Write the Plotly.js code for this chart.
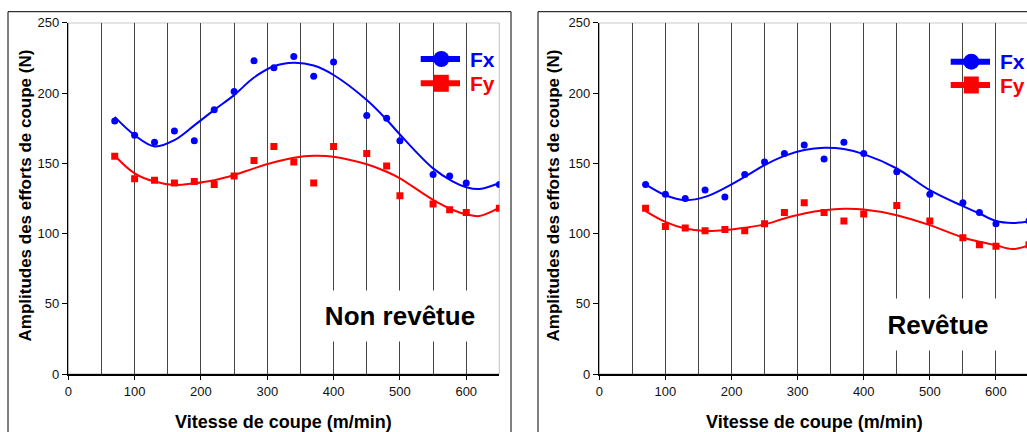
<!DOCTYPE html>
<html>
<head>
<meta charset="utf-8">
<script src="https://cdn.plot.ly/plotly-3.0.1.min.js"></script>
<style>
html,body{margin:0;padding:0;overflow:hidden;background:#fff;}
#chart{width:1032px;height:432px;}
</style>
</head>
<body>
<div id="chart"></div>
<script>
// ---------- DATA ----------
const panelNames = ["Non revêtue", "Revêtue"];
const seriesNames = ["Fx", "Fy"];

// Non revêtue (left)
const leftSpeed = [70,100,130,160,190,220,250,280,310,340,370,400,450,480,500,550,575,600,650];
const leftFx    = [180,170,165,173,166,188,201,223,218,226,212,222,184,182,166,142,141,136,135];
const leftFy    = [155,139,138,136,137,135,141,152,162,151,136,162,157,148,127,121,117,115,118];
// trend curves
const leftCurveSpeed = [70,100,130,160,190,220,250,280,310,340,370,400,450,480,500,550,580,600,620,650];
const leftFxCurve    = [183,170,162,166.5,177,188,198.5,211,219,221.5,219.5,212.8,195,181,170.5,146.4,137,133,131.7,136];
const leftFyCurve    = [155.4,142.9,137,134.6,135.8,138,141.7,146.4,150.7,154,155.4,154.7,149.3,144,139.3,124,116.8,113.7,112.5,118.4];

// Revêtue (right)
const rightSpeed = [70,100,130,160,190,220,250,280,310,340,370,400,450,500,550,575,600,650];
const rightFx    = [135,128,125,131,126,142,151,157,163,153,165,157,144,128,122,115,107,109];
const rightFy    = [118,105,104,102,103,102,107,115,122,115,109,114,120,109,97,92,91,92];
const rightCurveSpeed = [70,100,130,160,190,220,250,280,310,340,370,400,450,500,550,575,600,625,650];
const rightFxCurve    = [135,127.3,123.8,126.1,132.5,140.4,148.7,155.3,159.4,161,160.1,156.5,146.3,130.9,119.5,114.3,109,107.6,108.6];
const rightFyCurve    = [116,108.3,103.6,101.9,102.4,104.1,106.5,110.8,114.3,116.6,117.6,117.1,113.1,106,97.2,94.2,91.7,89,91.7];

const xTickVals = [0,100,200,300,400,500,600];
const yTickVals = [0,50,100,150,200,250];
const xTitle = "Vitesse de coupe (m/min)";
const yTitle = "Amplitudes des efforts de coupe (N)";

// ---------- LAYOUT ----------
const W = 1032, H = 432;
const px = v => v / W;
const py = v => 1 - v / H;
const BLUE = "#0000FF", RED = "#FF0000";
const FONT = "Liberation Sans, Arial, sans-serif";

function pointTrace(x, y, xa, ya, color, symbol) {
  return {x: x, y: y, xaxis: xa, yaxis: ya, type: "scatter", mode: "markers",
    marker: {color: color, size: 7, symbol: symbol, line: {width: 0}}, hoverinfo: "skip"};
}
function curveTrace(x, y, xa, ya, color) {
  return {x: x, y: y, xaxis: xa, yaxis: ya, type: "scatter", mode: "lines",
    line: {color: color, width: 2, shape: "spline", smoothing: 1}, hoverinfo: "skip"};
}

const data = [
  curveTrace(leftCurveSpeed, leftFxCurve, "x", "y", BLUE),
  curveTrace(leftCurveSpeed, leftFyCurve, "x", "y", RED),
  pointTrace(leftSpeed, leftFx, "x", "y", BLUE, "circle"),
  pointTrace(leftSpeed, leftFy, "x", "y", RED, "square"),
  curveTrace(rightCurveSpeed, rightFxCurve, "x2", "y2", BLUE),
  curveTrace(rightCurveSpeed, rightFyCurve, "x2", "y2", RED),
  pointTrace(rightSpeed, rightFx, "x2", "y2", BLUE, "circle"),
  pointTrace(rightSpeed, rightFy, "x2", "y2", RED, "square")
];

function xAxis(domain, anchor) {
  return {domain: domain, anchor: anchor, range: [0, 650], tickvals: xTickVals,
    showgrid: true, gridcolor: "#444", gridwidth: 1,
    minor: {dtick: 50, tick0: 0, showgrid: true, gridcolor: "#444", gridwidth: 1, ticks: ""},
    showline: true, linecolor: "#000", linewidth: 2, zeroline: false,
    ticks: "outside", ticklen: 4, tickwidth: 1, tickcolor: "#000",
    tickfont: {family: FONT, size: 13, color: "#111"}, fixedrange: true};
}
function yAxis(domain, anchor) {
  return {domain: domain, anchor: anchor, range: [0, 250], tickvals: yTickVals,
    showgrid: false, showline: true, linecolor: "#000", linewidth: 1.5, zeroline: false,
    ticks: "outside", ticklen: 5, tickwidth: 1, tickcolor: "#000",
    tickfont: {family: FONT, size: 13, color: "#111"}, fixedrange: true};
}

const yDom = [py(374.2), py(22.7)];
const layout = {
  width: W, height: H, margin: {l: 0, r: 0, t: 0, b: 0},
  paper_bgcolor: "#fff", plot_bgcolor: "rgba(0,0,0,0)", showlegend: false,
  font: {family: FONT, color: "#000"},
  xaxis: xAxis([px(68.3), px(499.4)], "y"),
  yaxis: yAxis(yDom, "x"),
  xaxis2: xAxis([px(599.3), px(1029)], "y2"),
  yaxis2: yAxis(yDom, "x2"),
  shapes: [],
  annotations: []
};

// plot-area frames (top/right light border)
[["x","y"],["x2","y2"]].forEach(([xa, ya]) => {
  layout.shapes.push({type: "rect", xref: xa, yref: ya, x0: 0, x1: 650, y0: 0, y1: 250,
    line: {color: "#777", width: 1}, layer: "below"});
});
// panel outer frames
layout.shapes.push({type: "rect", xref: "paper", yref: "paper", x0: px(8), x1: px(511), y0: py(11.7), y1: -0.1,
  line: {color: "#000", width: 1}});
layout.shapes.push({type: "rect", xref: "paper", yref: "paper", x0: px(538), x1: 1.1, y0: py(11.7), y1: -0.1,
  line: {color: "#000", width: 1}});

// custom legends
function legend(lx0, lx1, cx, yFx, yFy, textX) {
  layout.shapes.push({type: "line", xref: "paper", yref: "paper", x0: px(lx0), x1: px(lx1), y0: py(yFx), y1: py(yFx),
    line: {color: BLUE, width: 6}});
  layout.shapes.push({type: "circle", xref: "paper", yref: "paper", x0: px(cx - 8), x1: px(cx + 8), y0: py(yFx - 8), y1: py(yFx + 8),
    fillcolor: BLUE, line: {width: 0}});
  layout.shapes.push({type: "line", xref: "paper", yref: "paper", x0: px(lx0), x1: px(lx1), y0: py(yFy), y1: py(yFy),
    line: {color: RED, width: 6}});
  layout.shapes.push({type: "rect", xref: "paper", yref: "paper", x0: px(cx - 7.5), x1: px(cx + 7.5), y0: py(yFy - 8.5), y1: py(yFy + 8.5),
    fillcolor: RED, line: {width: 0}});
  layout.annotations.push({xref: "paper", yref: "paper", x: px(textX), y: py(yFx), xanchor: "left", yanchor: "middle",
    text: "<b>" + seriesNames[0] + "</b>", showarrow: false, font: {family: FONT, size: 21, color: BLUE}});
  layout.annotations.push({xref: "paper", yref: "paper", x: px(textX), y: py(yFy), xanchor: "left", yanchor: "middle",
    text: "<b>" + seriesNames[1] + "</b>", showarrow: false, font: {family: FONT, size: 21, color: RED}});
}
legend(420.7, 460, 441.3, 59, 83.3, 468);
legend(950.7, 990, 971.3, 61.7, 85, 998);

// panel labels with white boxes
layout.annotations.push({xref: "paper", yref: "paper", x: px(400), y: py(316), xanchor: "center", yanchor: "middle",
  text: "<b>" + panelNames[0] + "</b>", showarrow: false, bgcolor: "#fff", width: 160, height: 48,
  font: {family: FONT, size: 26, color: "#000"}});
layout.annotations.push({xref: "paper", yref: "paper", x: px(938), y: py(324), xanchor: "center", yanchor: "middle",
  text: "<b>" + panelNames[1] + "</b>", showarrow: false, bgcolor: "#fff", width: 140, height: 49,
  font: {family: FONT, size: 26, color: "#000"}});

// axis titles
[[283.8, 24.5], [814, 552.5]].forEach(([xc, yc]) => {
  layout.annotations.push({xref: "paper", yref: "paper", x: px(xc), y: py(422), xanchor: "center", yanchor: "middle",
    text: "<b>" + xTitle + "</b>", showarrow: false, font: {family: FONT, size: 18, color: "#000"}});
  layout.annotations.push({xref: "paper", yref: "paper", x: px(yc), y: py(196), xanchor: "center", yanchor: "middle",
    textangle: -90, text: "<b>" + yTitle + "</b>", showarrow: false, font: {family: FONT, size: 17, color: "#000"}});
});

Plotly.newPlot("chart", data, layout, {staticPlot: true, displayModeBar: false});
</script>
</body>
</html>
